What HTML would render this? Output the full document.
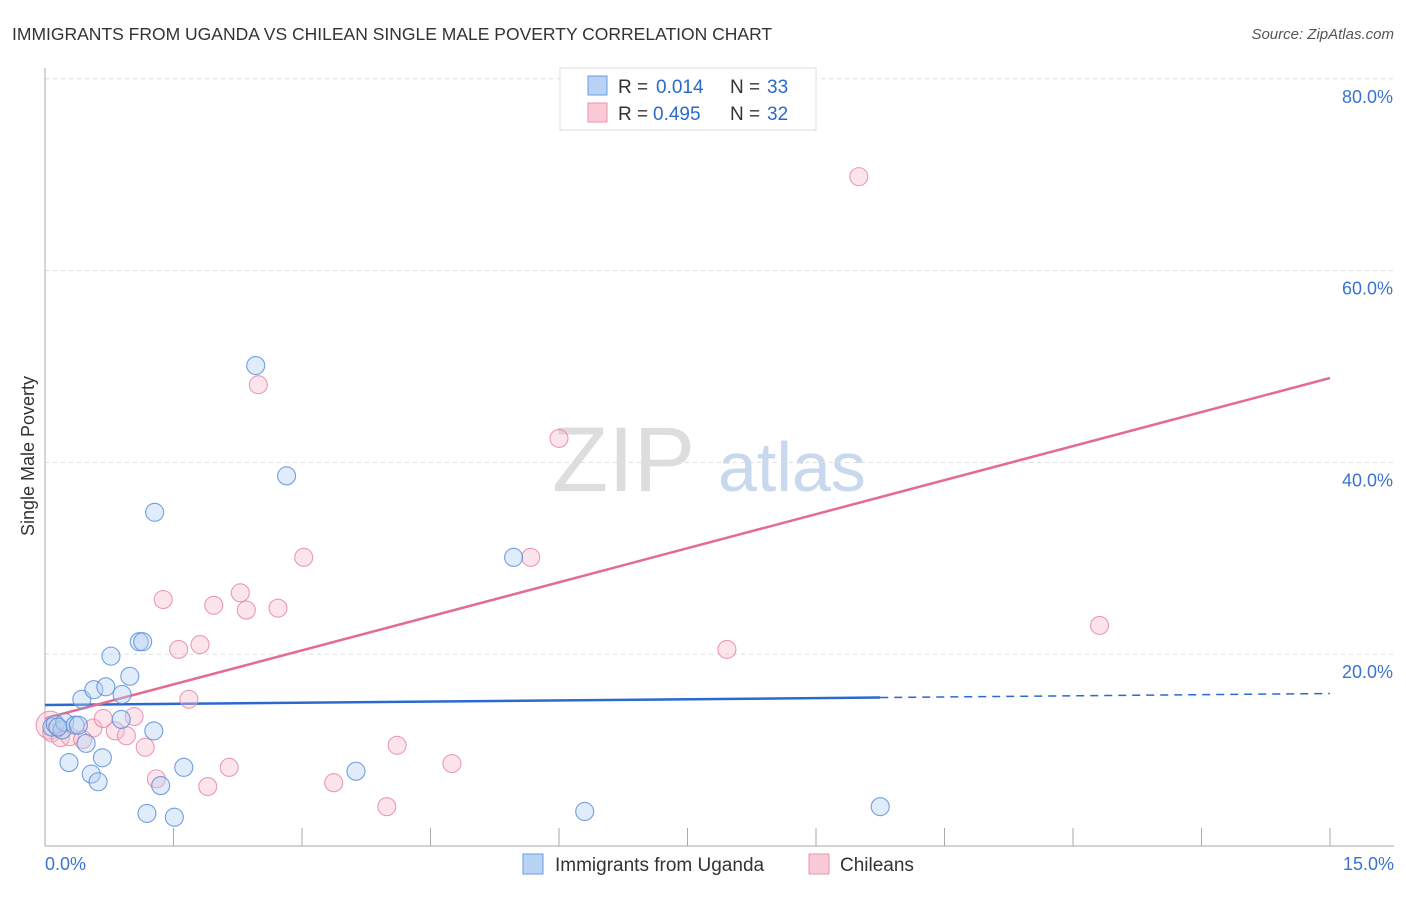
<!DOCTYPE html>
<html><head><meta charset="utf-8"><style>
body{margin:0;background:#fff;font-family:"Liberation Sans",sans-serif;}
svg text{font-family:"Liberation Sans",sans-serif;}
</style></head><body>
<svg id="chart" width="1406" height="892" xmlns="http://www.w3.org/2000/svg">
<text x="12" y="40" font-size="17.5" fill="#333">IMMIGRANTS FROM UGANDA VS CHILEAN SINGLE MALE POVERTY CORRELATION CHART</text>
<text x="1394" y="39" font-size="15" fill="#555" font-style="italic" text-anchor="end">Source: ZipAtlas.com</text>
<text transform="translate(34,456) rotate(-90)" font-size="18" fill="#333" text-anchor="middle">Single Male Poverty</text>
<g><text x="552" y="491" font-size="92" fill="#ddd" font-family="Liberation Serif">ZIP</text><text x="718" y="491" font-size="70" fill="#c8d8ee">atlas</text></g>
<g id="grid"></g><g id="axes"></g><g id="lines"></g><g id="pts"></g>
<g>
<rect x="560" y="68" width="256" height="62" fill="#fff" stroke="#ddd"/>
<rect x="588" y="76" width="19" height="19" fill="#b9d3f5" stroke="#6a9be0"/>
<text x="618" y="93" font-size="19" fill="#333">R =</text>
<text x="656" y="93" font-size="19" fill="#2a6ad0">0.014</text>
<text x="730" y="93" font-size="19" fill="#333">N =</text>
<text x="767" y="93" font-size="19" fill="#2a6ad0">33</text>
<rect x="588" y="103" width="19" height="19" fill="#f9c9d6" stroke="#e995ad"/>
<text x="618" y="120" font-size="19" fill="#333">R =</text>
<text x="653" y="120" font-size="19" fill="#2a6ad0">0.495</text>
<text x="730" y="120" font-size="19" fill="#333">N =</text>
<text x="767" y="120" font-size="19" fill="#2a6ad0">32</text>
</g>
<g>
<rect x="523" y="854" width="20" height="20" fill="#b9d3f5" stroke="#6a9be0"/>
<text x="555" y="871" font-size="19" fill="#333">Immigrants from Uganda</text>
<rect x="809" y="854" width="20" height="20" fill="#f9c9d6" stroke="#e995ad"/>
<text x="840" y="871" font-size="19" fill="#333">Chileans</text>
</g>
</svg>
<script>
const yTicks=[20,40,60,80];
const yTickLabels=["20.0%","40.0%","60.0%","80.0%"];
const xTickVals=[0,1.5,3,4.5,6,7.5,9,10.5,12,13.5,15];
const blueX=[0.08,0.12,0.20,0.23,0.35,0.39,0.48,0.28,0.54,0.62,0.67,0.43,0.57,0.71,0.77,0.90,0.99,0.89,1.10,1.14,1.27,1.35,1.19,1.51,1.62,1.28,2.46,2.82,3.63,5.47,6.30,9.75,0.15];
const blueY=[12.4,12.7,12.1,12.9,12.6,12.6,10.7,8.7,7.5,6.7,9.2,15.3,16.3,16.6,19.8,15.8,17.7,13.2,21.3,21.3,12.0,6.3,3.4,3.0,8.2,34.8,50.1,38.6,7.8,30.1,3.6,4.1,12.4];
const pinkX=[0.06,0.08,0.18,0.29,0.44,0.56,0.68,0.82,0.95,1.04,1.17,1.30,1.38,1.56,1.68,1.81,1.97,1.90,2.15,2.28,2.35,2.72,3.02,3.37,3.99,4.11,4.75,5.67,6.00,2.49,7.96,9.50,12.31];
const pinkY=[12.6,11.8,11.3,11.4,11.1,12.3,13.3,12.0,11.5,13.5,10.3,7.0,25.7,20.5,15.3,21.0,25.1,6.2,8.2,26.4,24.6,24.8,30.1,6.6,4.1,10.5,8.6,30.1,42.5,48.1,20.5,69.8,23.0];
const blueTrend=[14.7,15.9];
const pinkTrend=[13.3,48.8];
const NS="http://www.w3.org/2000/svg";
const X=v=>45+v*(1285/15);
const Y=v=>846-v*9.59;
function mk(tag,attrs,parent){const e=document.createElementNS(NS,tag);for(const k in attrs)e.setAttribute(k,attrs[k]);document.getElementById(parent).appendChild(e);return e;}
yTicks.forEach((t,i)=>{
 const l=mk('line',{x1:45,x2:1394,y1:Y(t),y2:Y(t),stroke:'#ddd','stroke-dasharray':'4,4'},'grid');
 
 
 const tx=mk('text',{x:1393,y:Y(t)+24,'font-size':18,fill:'#3a74d0','text-anchor':'end'},'grid');
 tx.textContent=yTickLabels[i];
 
 
});
const ax=mk('line',{x1:45,x2:45,y1:68,y2:846,stroke:'#aaa'},'axes');


const bx=mk('line',{x1:45,x2:1394,y1:846,y2:846,stroke:'#aaa'},'axes');


xTickVals.forEach(v=>{
 const t=mk('line',{x1:X(v),x2:X(v),y1:828,y2:846,stroke:'#aaa'},'axes');
 
 
});
const xl0=mk('text',{x:45,y:870,'font-size':18,fill:'#3a74d0'},'axes');xl0.textContent='0.0%';


const xl1=mk('text',{x:1394,y:870,'font-size':18,fill:'#3a74d0','text-anchor':'end'},'axes');xl1.textContent='15.0%';


function pts(xs,ys,fill,stroke,name){xs.forEach((x,i)=>{
 const c=mk('circle',{cx:X(x),cy:Y(ys[i]),r:(name==='chilean-point'&&i===0)?14:9,fill:fill,'fill-opacity':0.4,stroke:stroke,'stroke-width':1.1,'stroke-opacity':0.85},'pts');
 
 
});}
pts(pinkX,pinkY,'#f7bccc','#e88aa6','chilean-point');
pts(blueX,blueY,'#b5d0f2','#5b8fdb','uganda-point');
const bt=v=>blueTrend[0]+(blueTrend[1]-blueTrend[0])*v/15;
const l1=mk('line',{x1:X(0),y1:Y(bt(0)),x2:X(9.75),y2:Y(bt(9.75)),stroke:'#2a6ad0','stroke-width':2.5},'lines');


const l2=mk('line',{x1:X(9.75),y1:Y(bt(9.75)),x2:X(15),y2:Y(bt(15)),stroke:'#2a6ad0','stroke-width':1.5,'stroke-dasharray':'8,6'},'lines');


const l3=mk('line',{x1:X(0),y1:Y(pinkTrend[0]),x2:X(15),y2:Y(pinkTrend[1]),stroke:'#e46a94','stroke-width':2.5},'lines');


</script>
</body></html>
